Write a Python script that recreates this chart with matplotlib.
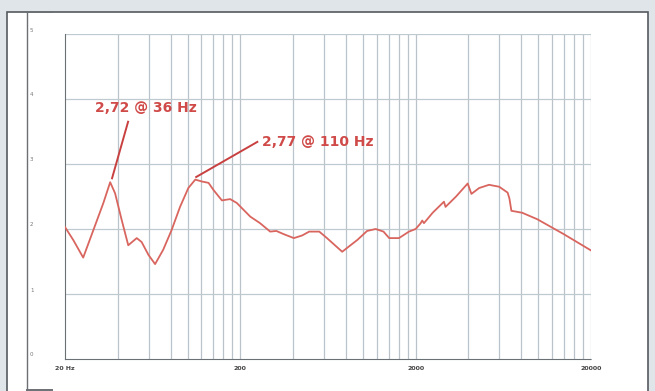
import numpy as np
import matplotlib.pyplot as plt
from matplotlib.patches import Rectangle
from matplotlib.lines import Line2D

# impedance-style response, read point by point
freq = [20, 22.3, 25.4, 29.0, 33.1, 36.2, 38.6, 42.1, 45.9, 51.3, 54.7, 59.9, 65.3,
        72.6, 81.0, 90.6, 101, 110.7, 121, 131.7, 140.6, 157, 175, 191, 228, 259,
        296, 321, 354, 404, 450, 494, 564, 624, 762, 850, 928, 1057, 1183, 1311,
        1413, 1606, 1832, 2000, 2137, 2180, 2230, 2500, 2900, 2960, 3400, 3960,
        4160, 4600, 5240, 5990, 6690, 6850, 7030, 8100, 9880, 14000, 20000]
level = [2.03, 1.83, 1.56, 1.98, 2.40, 2.72, 2.55, 2.14, 1.75, 1.86, 1.80, 1.60, 1.46,
         1.68, 1.98, 2.34, 2.63, 2.76, 2.73, 2.71, 2.60, 2.44, 2.46, 2.40, 2.19, 2.09,
         1.96, 1.97, 1.92, 1.86, 1.90, 1.96, 1.96, 1.86, 1.65, 1.75, 1.83, 1.97, 2.0,
         1.96, 1.86, 1.86, 1.96, 2.0, 2.09, 2.13, 2.09, 2.25, 2.42, 2.34, 2.5, 2.70,
         2.54, 2.63, 2.68, 2.65, 2.56, 2.47, 2.28, 2.25, 2.15, 1.92, 1.67]

peak_labels = ["2,72 @ 36 Hz", "2,77 @ 110 Hz"]
# leader lines: (start f, start v) at the text, (end f, end v) at the peak
leader_from = [(45.8, 3.65), (250, 3.34)]
leader_to = [(37.1, 2.78), (112, 2.80)]
label_pos = [(29.7, 3.86), (266, 3.34)]

xtick_vals = [20, 200, 2000, 20000]
xtick_text = ["20 Hz", "200", "2000", "20000"]
ytick_vals = [0, 1, 2, 3, 4, 5]

W, H = 655, 391
fig = plt.figure(figsize=(W / 100, H / 100), dpi=100)
fig.patch.set_facecolor("#dfe5e9")

# white panel with its dark frame, kept behind the axes
fig.patches.append(Rectangle((7 / W, -0.05), (648 - 7) / W, 1.05 - 12 / H,
                             transform=fig.transFigure, facecolor="white",
                             edgecolor="#555a60", linewidth=1.2, zorder=-10))
# the extra scale line on the left of the panel
fig.lines.append(Line2D([27 / W, 27 / W], [0, 1 - 12 / H], transform=fig.transFigure,
                        color="#6b7075", linewidth=1.0))
fig.lines.append(Line2D([27 / W, 52 / W], [1 - 12 / H, 1 - 12 / H], transform=fig.transFigure,
                        color="#6b7075", linewidth=1.4))
fig.lines.append(Line2D([27 / W, 52 / W], [1 / H, 1 / H], transform=fig.transFigure,
                        color="#6b7075", linewidth=1.4))

ax = fig.add_axes([65 / W, 1 - 359 / H, (591 - 65) / W, (359 - 34) / H])
ax.set_facecolor("white")
ax.set_xscale("log")
ax.set_xlim(20, 20000)
ax.set_ylim(0, 5)

# vertical grid at 20, 40, 60 ... in every decade
for dec in [1, 10, 100]:
    for k in range(2, 11):
        ax.axvline(20 * k * dec, color="#bac3ca", linewidth=0.9, zorder=1)
for v in ytick_vals[1:]:
    ax.axhline(v, color="#bfc9d0", linewidth=0.9, zorder=1)

ax.plot(freq, level, color="#d9655f", linewidth=1.3, zorder=3, solid_joinstyle="round")

for txt, (fa, va), (fb, vb), (tx, ty) in zip(peak_labels, leader_from, leader_to, label_pos):
    ax.plot([fa, fb], [va, vb], color="#c8403f", linewidth=1.4, zorder=4)
    ax.text(tx, ty, txt, fontsize=10, fontweight="bold", color="#cf4a48",
            va="center", ha="left", zorder=5)

ax.set_xticks(xtick_vals)
ax.set_xticklabels(xtick_text, fontsize=4.5, fontweight="bold", color="#444")
ax.xaxis.set_minor_locator(plt.NullLocator())
ax.tick_params(axis="x", length=0, pad=5)
ax.set_yticks([])

for side in ["top", "right"]:
    ax.spines[side].set_visible(False)
ax.spines["left"].set_color("#6b7075")
ax.spines["bottom"].set_color("#6b7075")
ax.spines["bottom"].set_linestyle((0, (2, 1)))

for v in ytick_vals:
    fig.text(30 / W, 1 - (359 - 65 * v - 4) / H, str(v), fontsize=4, color="#777",
             ha="left", va="center")

fig.savefig("out.png", dpi=100, facecolor=fig.get_facecolor())
